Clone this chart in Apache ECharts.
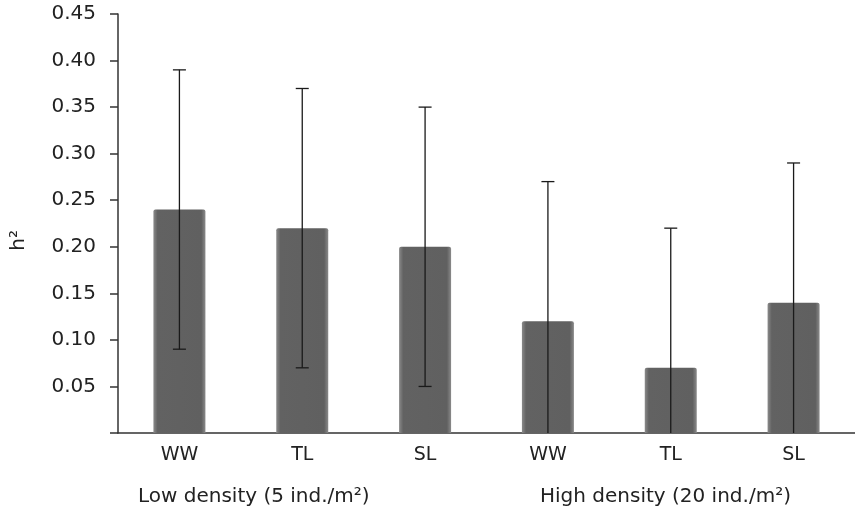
<!DOCTYPE html>
<html>
<head>
<meta charset="utf-8">
<script src="https://cdn.jsdelivr.net/npm/echarts@6/dist/echarts.min.js"></script>
<style>
  html, body { margin: 0; padding: 0; background: #fff; }
  #chart { width: 855px; height: 516px; }
</style>
</head>
<body>
<div id="chart"></div>
<script>
const categories = ['WW', 'TL', 'SL', 'WW', 'TL', 'SL'];
const h2_values = [0.24, 0.22, 0.20, 0.12, 0.07, 0.14];
const h2_sd = [0.15, 0.15, 0.15, 0.15, 0.15, 0.15];
const group_labels = ['Low density (5 ind./m²)', 'High density (20 ind./m²)'];

const chart = echarts.init(document.getElementById('chart'));
const font = 'DejaVu Sans';

const option = {
  animation: false,
  grid: { left: 118, top: 14, width: 740, height: 419 },
  xAxis: {
    type: 'category',
    data: categories,
    axisLine: { lineStyle: { color: '#333', width: 1.5 } },
    axisTick: { length: 5, lineStyle: { color: '#333', width: 1.5 } },
    axisLabel: { color: '#222', fontFamily: font, fontSize: 19, margin: 13 }
  },
  yAxis: {
    type: 'value',
    min: 0,
    max: 0.45,
    interval: 0.05,
    splitLine: { show: false },
    axisLine: { show: true, lineStyle: { color: '#333', width: 1.5 } },
    axisTick: { show: true, length: 8, lineStyle: { color: '#333', width: 1.5 } },
    axisLabel: {
      color: '#222', fontFamily: font, fontSize: 20, margin: 22,
      formatter: v => v === 0 ? '' : v.toFixed(2)
    }
  },
  graphic: [
    { type: 'text', left: 9, top: 230, rotation: Math.PI / 2,
      style: { text: 'h²', font: '20px ' + font, fill: '#222' } },
    { type: 'text', left: 138, top: 487,
      style: { text: group_labels[0], font: '20px ' + font, fill: '#222' } },
    { type: 'text', left: 540, top: 487,
      style: { text: group_labels[1], font: '20px ' + font, fill: '#222' } }
  ],
  series: [
    {
      type: 'bar',
      data: h2_values,
      barWidth: 52,
      itemStyle: {
        color: {
          type: 'linear', x: 0, y: 0, x2: 1, y2: 0,
          colorStops: [
            { offset: 0, color: '#8a8a8a' },
            { offset: 0.08, color: '#626262' },
            { offset: 0.92, color: '#606060' },
            { offset: 1, color: '#8a8a8a' }
          ]
        },
        borderRadius: [2, 2, 0, 0]
      }
    },
    {
      type: 'custom',
      clip: true,
      data: h2_values.map((v, i) => [i, v - h2_sd[i], v + h2_sd[i]]),
      renderItem: function (params, api) {
        const lo = api.coord([api.value(0), api.value(1)]);
        const hi = api.coord([api.value(0), api.value(2)]);
        const half = 6.5;
        const style = { stroke: '#1a1a1a', lineWidth: 1.3 };
        return {
          type: 'group',
          children: [
            { type: 'line', shape: { x1: hi[0], y1: hi[1], x2: lo[0], y2: lo[1] }, style },
            { type: 'line', shape: { x1: hi[0] - half, y1: hi[1], x2: hi[0] + half, y2: hi[1] }, style },
            { type: 'line', shape: { x1: lo[0] - half, y1: lo[1], x2: lo[0] + half, y2: lo[1] }, style }
          ]
        };
      },
      z: 5
    }
  ]
};

chart.setOption(option);
</script>
</body>
</html>
